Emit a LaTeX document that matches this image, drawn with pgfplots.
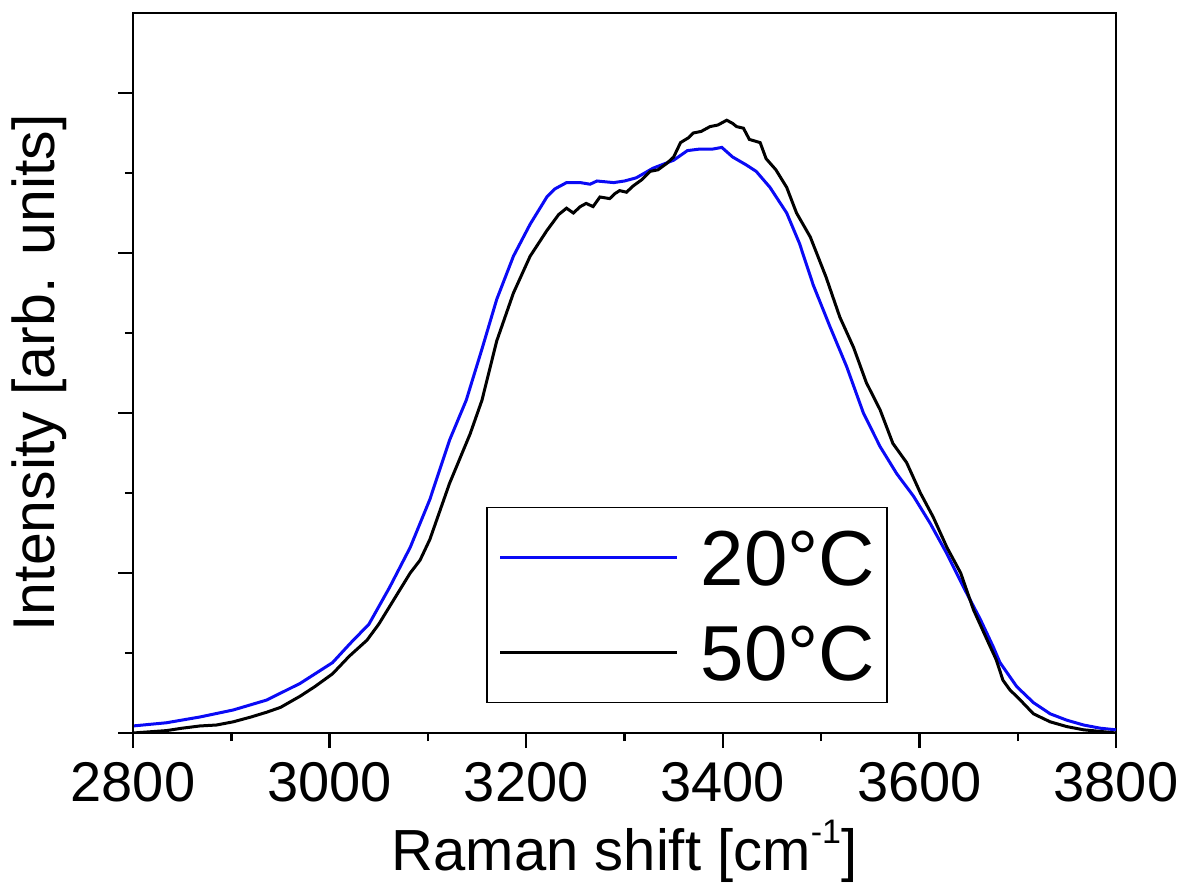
\documentclass[border=0pt]{standalone}
\usepackage{pgfplots}
\pgfplotsset{compat=1.18}
\usepackage{fontspec}
\setmainfont{Liberation Sans}
\definecolor{cblue}{RGB}{10,10,245}

\pgfplotstableread{
x y
2800 0.044
2834 0.064
2868 0.10
2902 0.144
2936 0.206
2970 0.31
3003 0.44
3021 0.56
3040 0.68
3061 0.91
3082 1.16
3102 1.46
3122 1.83
3139 2.08
3155 2.40
3170 2.71
3187 2.98
3204 3.18
3221 3.35
3229 3.40
3241 3.44
3255 3.44
3265 3.43
3272 3.45
3289 3.44
3300 3.45
3312 3.47
3329 3.53
3350 3.58
3364 3.64
3377 3.65
3390 3.65
3399 3.66
3410 3.60
3424 3.55
3434 3.51
3448 3.41
3465 3.25
3478 3.06
3492 2.80
3509 2.54
3526 2.29
3543 2.00
3560 1.79
3577 1.62
3594 1.48
3611 1.31
3628 1.12
3645 0.91
3662 0.71
3675 0.54
3682 0.44
3699 0.29
3716 0.19
3733 0.12
3750 0.08
3767 0.05
3784 0.03
3800 0.02
}\tblue

\pgfplotstableread{
x y
2800 0.0
2834 0.015
2850 0.03
2868 0.044
2885 0.05
2902 0.07
2920 0.10
2936 0.13
2950 0.16
2970 0.23
2985 0.29
3003 0.37
3020 0.48
3038 0.58
3050 0.68
3065 0.83
3082 1.0
3092 1.08
3102 1.21
3122 1.56
3143 1.87
3155 2.08
3170 2.45
3187 2.75
3204 2.98
3221 3.14
3233 3.24
3241 3.28
3248 3.25
3255 3.29
3261 3.31
3268 3.29
3275 3.35
3285 3.34
3290 3.37
3295 3.39
3302 3.38
3309 3.42
3318 3.46
3326 3.51
3334 3.52
3343 3.56
3350 3.60
3357 3.69
3365 3.72
3370 3.75
3378 3.76
3387 3.79
3395 3.80
3404 3.83
3410 3.81
3414 3.79
3421 3.78
3427 3.71
3438 3.69
3444 3.59
3454 3.52
3465 3.41
3475 3.25
3489 3.10
3505 2.85
3519 2.60
3533 2.41
3546 2.19
3560 2.02
3573 1.81
3587 1.69
3601 1.50
3614 1.35
3628 1.16
3642 1.00
3655 0.77
3672 0.54
3678 0.46
3685 0.33
3692 0.27
3702 0.21
3716 0.12
3733 0.07
3750 0.04
3767 0.02
3784 0.01
3800 0.0
}\tblack

\begin{document}
\begin{tikzpicture}
\begin{axis}[
  name=ax, at={(0,0)}, anchor=south west,
  scale only axis, width=491.5pt, height=360pt,
  xmin=2800, xmax=3800, ymin=0, ymax=4.5,
  xtick={2800,3000,3200,3400,3600,3800}, minor x tick num=1,
  ytick={0,1,2,3,4}, yticklabels={}, minor y tick num=1,
  tick align=outside, xtick pos=left, ytick pos=left,
  major tick length=7.5pt, minor tick length=4pt,
  every tick/.append style={black, line width=1.2pt},
  axis line style={line width=0.75pt},
  /pgf/number format/assume math mode=true,
  /pgf/number format/set thousands separator={},
  xticklabel style={font=\fontsize{28}{34}\selectfont, anchor=base, inner sep=0pt, yshift=-26.5pt},
  legend style={at={(rel axis cs:0.3591,0.3139)}, anchor=north west,
    draw=black, line width=0.75pt, fill=white,
    inner xsep=6pt, inner ysep=11pt, row sep=19.5pt, column sep=11pt,
    font=\fontsize{39}{47}\selectfont,
    nodes={inner sep=0pt, text height=28pt, text depth=0pt}},
  legend cell align=left,
  legend image code/.code={\draw[#1] (0pt,0pt) -- (88.5pt,0pt);},
]
\addplot[cblue, line width=1.5pt] table[x=x,y=y] {\tblue};
\addlegendentry{20°C}
\addplot[black, line width=1.5pt] table[x=x,y=y] {\tblack};
\addlegendentry{50°C}
\end{axis}
\draw[line width=1.4pt] (ax.north west) -- (ax.south west) -- (ax.south east);
\node[rotate=90, anchor=base, font=\fontsize{29.5}{35}\selectfont] at (-39pt,180pt) {Intensity [arb. units]};
\node[anchor=base, font=\fontsize{29}{35}\selectfont] at (245.75pt,-68.5pt) {Raman shift [cm\raisebox{13.5pt}{\fontsize{17}{20}\selectfont -1}]};
\pgfresetboundingbox
\path[use as bounding box] (-66.5pt,-75.5pt) rectangle (527pt,366.5pt);
\end{tikzpicture}
\end{document}
